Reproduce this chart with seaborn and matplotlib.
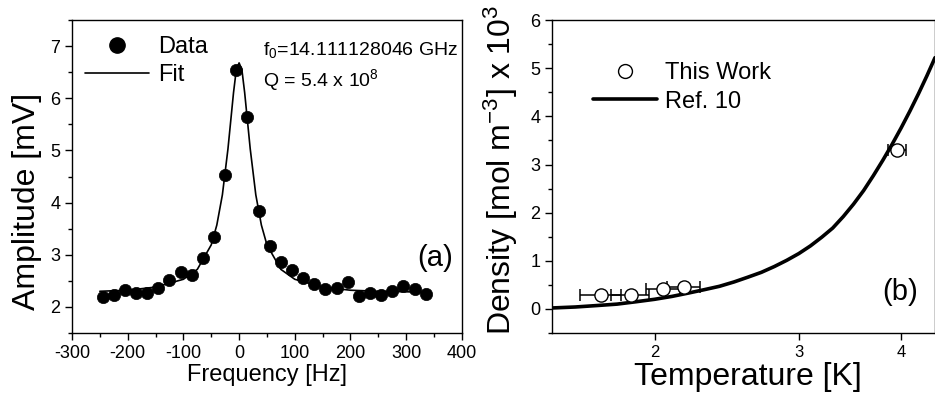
import numpy as np
import pandas as pd
import matplotlib
matplotlib.use("Agg")
import matplotlib.pyplot as plt
from matplotlib.lines import Line2D
from matplotlib.ticker import MultipleLocator, NullLocator, FixedLocator
import seaborn as sns

sns.set_style("ticks")
plt.rcParams["font.family"] = ["Liberation Sans", "DejaVu Sans"]
plt.rcParams["mathtext.fontset"] = "custom"
plt.rcParams["mathtext.rm"] = "Liberation Sans"
plt.rcParams["mathtext.it"] = "Liberation Sans:italic"
plt.rcParams["mathtext.default"] = "rm"
plt.rcParams["axes.unicode_minus"] = False
plt.rcParams["text.color"] = "black"
plt.rcParams["axes.labelcolor"] = "black"

# ---------------------------------------------------------------
# (a) resonance data and Lorentzian fit
# ---------------------------------------------------------------
freq = [-245, -225, -205, -185, -165, -145, -125, -105, -85, -65,
        -45, -25, -5, 15, 35, 55, 75, 95, 115, 135,
        155, 175, 195, 215, 235, 255, 275, 295, 315, 335]
amp = [2.19, 2.22, 2.32, 2.26, 2.26, 2.36, 2.51, 2.67, 2.61, 2.93,
       3.34, 4.53, 6.55, 5.65, 3.83, 3.16, 2.86, 2.70, 2.55, 2.43,
       2.34, 2.37, 2.47, 2.20, 2.26, 2.23, 2.31, 2.40, 2.34, 2.24]

fit_freq = [-250, -200, -150, -100, -75, -50, -40, -30, -20, -15, -10, -5,
            0, 5, 10, 15, 20, 30, 40, 50, 75, 100, 150, 200, 250, 300, 340]
fit_amp = [2.30, 2.32, 2.38, 2.53, 2.72, 3.19, 3.57, 4.15, 5.03, 5.57, 6.11, 6.55,
           6.68, 6.55, 6.11, 5.57, 5.03, 4.15, 3.57, 3.19, 2.72, 2.53, 2.38, 2.32,
           2.30, 2.29, 2.28]

# ---------------------------------------------------------------
# (b) density vs temperature
# ---------------------------------------------------------------
temp = [1.72, 1.87, 2.05, 2.17, 3.95]
dens = [0.28, 0.28, 0.42, 0.45, 3.31]
temp_err = [0.10, 0.10, 0.10, 0.10, 0.10]

ref_temp = [1.5, 1.6, 1.7, 1.8, 1.9, 2.0, 2.1, 2.2, 2.3, 2.4,
            2.5, 2.6, 2.7, 2.8, 2.9, 3.0, 3.1, 3.2, 3.3, 3.4,
            3.5, 3.6, 3.7, 3.8, 3.9, 4.0, 4.1, 4.2, 4.3, 4.4]
ref_dens = [0.02, 0.04, 0.07, 0.10, 0.15, 0.20, 0.26, 0.33, 0.40, 0.47,
            0.56, 0.66, 0.76, 0.88, 1.01, 1.15, 1.31, 1.49, 1.68, 1.92,
            2.18, 2.46, 2.77, 3.09, 3.42, 3.76, 4.11, 4.47, 4.84, 5.22]

df_a = pd.DataFrame({"freq": freq, "amp": amp})
df_fit = pd.DataFrame({"freq": fit_freq, "amp": fit_amp})
df_b = pd.DataFrame({"T": temp, "rho": dens})
df_ref = pd.DataFrame({"T": ref_temp, "rho": ref_dens})

fig = plt.figure(figsize=(9.35, 3.95), dpi=100)
ax1 = fig.add_axes([0.077, 0.157, 0.417, 0.792])
ax2 = fig.add_axes([0.5907, 0.157, 0.4093, 0.792])

# ---------------- panel (a) ----------------
sns.lineplot(data=df_fit, x="freq", y="amp", ax=ax1, color="black", lw=1.2)
sns.scatterplot(data=df_a, x="freq", y="amp", ax=ax1, color="black", s=78,
                edgecolor="black", linewidth=0.5, zorder=3)
ax1.set_xlim(-300, 400)
ax1.set_ylim(1.5, 7.5)
ax1.xaxis.set_major_locator(MultipleLocator(100))
ax1.xaxis.set_minor_locator(MultipleLocator(50))
ax1.yaxis.set_major_locator(FixedLocator([2, 3, 4, 5, 6, 7]))
ax1.yaxis.set_minor_locator(MultipleLocator(0.5))
ax1.set_xlabel("Frequency [Hz]", fontsize=17)
ax1.set_ylabel("Amplitude [mV]", fontsize=23)
ax1.xaxis.set_label_coords(0.499, -0.10)
ax1.yaxis.set_label_coords(-0.077, 0.42)
ax1.text(0.49, 0.904, r"f$_0$=14.111128046 GHz", transform=ax1.transAxes,
         fontsize=14, va="center", ha="left")
ax1.text(0.49, 0.808, r"Q = 5.4 x 10$^8$", transform=ax1.transAxes,
         fontsize=14, va="center", ha="left")
ax1.text(0.931, 0.24, "(a)", transform=ax1.transAxes, fontsize=21,
         va="center", ha="center")
h_a = [Line2D([], [], ls="none", marker="o", color="black", markersize=11),
       Line2D([], [], color="black", lw=1.2)]
ax1.legend(h_a, ["Data", "Fit"], loc="upper left", bbox_to_anchor=(0.033, 0.95),
           frameon=False, fontsize=17, handlelength=2.7, handletextpad=0.4,
           labelspacing=0.27, borderpad=0, borderaxespad=0)

# ---------------- panel (b) ----------------
sns.lineplot(data=df_ref, x="T", y="rho", ax=ax2, color="black", lw=2.6)
ax2.errorbar(temp, dens, xerr=temp_err, fmt="none", ecolor="black",
             elinewidth=1.1, capsize=4, capthick=1.1, zorder=3)
sns.scatterplot(data=df_b, x="T", y="rho", ax=ax2, marker="o", s=90,
                facecolor="white", edgecolor="black", linewidth=1.0, zorder=4)
ax2.set_xscale("log")
ax2.set_xlim(1.5, 4.4)
ax2.set_ylim(-0.5, 6)
ax2.xaxis.set_major_locator(FixedLocator([2, 3, 4]))
ax2.xaxis.set_minor_locator(NullLocator())
ax2.set_xticklabels(["2", "3", "4"])
ax2.yaxis.set_major_locator(MultipleLocator(1))
ax2.yaxis.set_minor_locator(MultipleLocator(0.5))
ax2.set_xlabel("Temperature [K]", fontsize=23)
ax2.set_ylabel(r"Density [mol m$^{-3}$] x 10$^3$", fontsize=23)
ax2.xaxis.set_label_coords(0.51, -0.093)
ax2.yaxis.set_label_coords(-0.084, 0.52)
ax2.text(0.91, 0.132, "(b)", transform=ax2.transAxes, fontsize=21,
         va="center", ha="center")
h_b = [Line2D([], [], ls="none", marker="o", markerfacecolor="white",
              markeredgecolor="black", markersize=10),
       Line2D([], [], color="black", lw=2.6)]
ax2.legend(h_b, ["This Work", "Ref. 10"], loc="upper left",
           bbox_to_anchor=(0.106, 0.865), frameon=False, fontsize=17,
           handlelength=2.7, handletextpad=0.35, labelspacing=0.27,
           borderpad=0, borderaxespad=0)

for ax in (ax1, ax2):
    for sp in ax.spines.values():
        sp.set_linewidth(1.0)
        sp.set_color("black")
    ax.tick_params(which="major", direction="out", length=5, width=1.0,
                   labelsize=13, colors="black")
    ax.tick_params(which="minor", direction="out", length=3, width=1.0,
                   colors="black")
ax2.tick_params(axis="x", labelsize=12)

fig.savefig("out.png", dpi=100)
